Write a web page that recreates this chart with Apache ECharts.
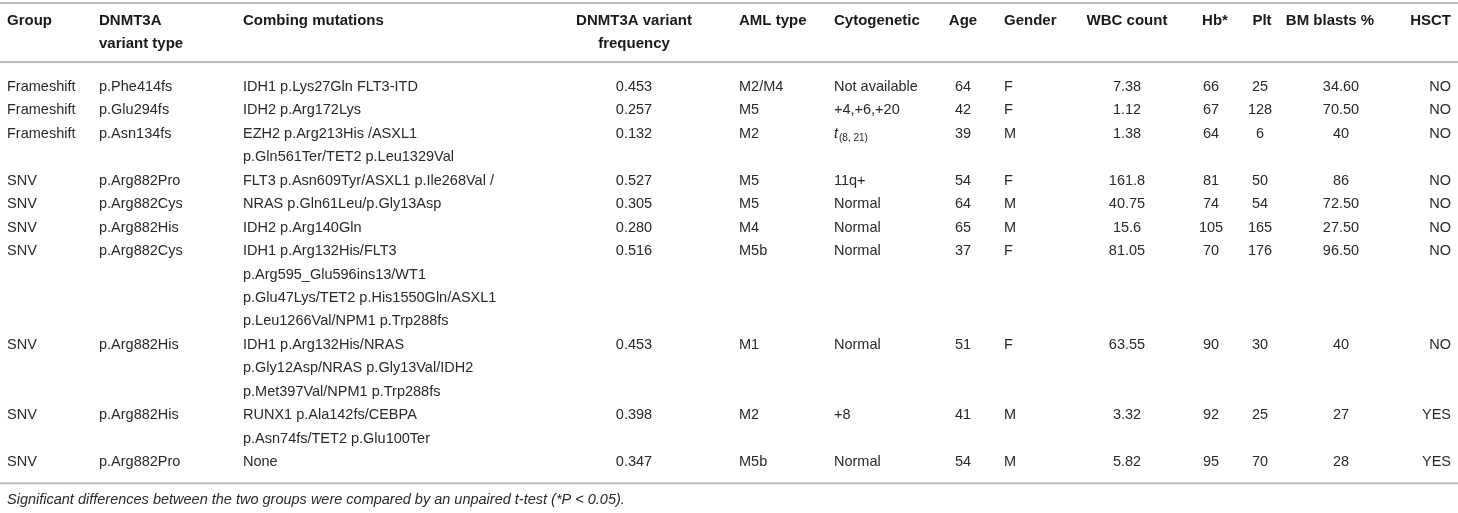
<!DOCTYPE html>
<html>
<head>
<meta charset="utf-8">
<style>
  html, body { margin: 0; padding: 0; background: #fff; }
  #chart { width: 1458px; height: 513px; }
</style>
<script src="https://cdn.jsdelivr.net/npm/echarts@6/dist/echarts.min.js"></script>
</head>
<body>
<div id="chart"></div>
<script>
// --- table content ---
var headers = [
  ['Group'], ['DNMT3A', 'variant type'], ['Combing mutations'], ['DNMT3A variant', 'frequency'],
  ['AML type'], ['Cytogenetic'], ['Age'], ['Gender'], ['WBC count'], ['Hb*'], ['Plt'], ['BM blasts %'], ['HSCT']
];
var groups = ['Frameshift', 'Frameshift', 'Frameshift', 'SNV', 'SNV', 'SNV', 'SNV', 'SNV', 'SNV', 'SNV'];
var variantTypes = ['p.Phe414fs', 'p.Glu294fs', 'p.Asn134fs', 'p.Arg882Pro', 'p.Arg882Cys', 'p.Arg882His',
  'p.Arg882Cys', 'p.Arg882His', 'p.Arg882His', 'p.Arg882Pro'];
var mutations = [
  ['IDH1 p.Lys27Gln FLT3-ITD'],
  ['IDH2 p.Arg172Lys'],
  ['EZH2 p.Arg213His /ASXL1', 'p.Gln561Ter/TET2 p.Leu1329Val'],
  ['FLT3 p.Asn609Tyr/ASXL1 p.Ile268Val /'],
  ['NRAS p.Gln61Leu/p.Gly13Asp'],
  ['IDH2 p.Arg140Gln'],
  ['IDH1 p.Arg132His/FLT3', 'p.Arg595_Glu596ins13/WT1', 'p.Glu47Lys/TET2 p.His1550Gln/ASXL1', 'p.Leu1266Val/NPM1 p.Trp288fs'],
  ['IDH1 p.Arg132His/NRAS', 'p.Gly12Asp/NRAS p.Gly13Val/IDH2', 'p.Met397Val/NPM1 p.Trp288fs'],
  ['RUNX1 p.Ala142fs/CEBPA', 'p.Asn74fs/TET2 p.Glu100Ter'],
  ['None']
];
var frequencies = ['0.453', '0.257', '0.132', '0.527', '0.305', '0.280', '0.516', '0.453', '0.398', '0.347'];
var amlTypes = ['M2/M4', 'M5', 'M2', 'M5', 'M5', 'M4', 'M5b', 'M1', 'M2', 'M5b'];
var cytogenetics = ['Not available', '+4,+6,+20', '{i|t}{s|(8, 21)}', '11q+', 'Normal', 'Normal', 'Normal', 'Normal', '+8', 'Normal'];
var ages = [64, 42, 39, 54, 64, 65, 37, 51, 41, 54];
var genders = ['F', 'F', 'M', 'F', 'M', 'M', 'F', 'F', 'M', 'M'];
var wbcCounts = ['7.38', '1.12', '1.38', '161.8', '40.75', '15.6', '81.05', '63.55', '3.32', '5.82'];
var hbValues = [66, 67, 64, 81, 74, 105, 70, 90, 92, 95];
var pltValues = [25, 128, 6, 50, 54, 165, 176, 30, 25, 70];
var blasts = ['34.60', '70.50', '40', '86', '72.50', '27.50', '96.50', '40', '27', '28'];
var hsct = ['NO', 'NO', 'NO', 'NO', 'NO', 'NO', 'NO', 'NO', 'YES', 'YES'];
var footnote = 'Significant differences between the two groups were compared by an unpaired t-test (*P < 0.05).';

// --- layout (x anchors in px, y in text lines from first body line) ---
var colLayout = [
  { x: 7, align: 'left' }, { x: 99, align: 'left' }, { x: 243, align: 'left' },
  { x: 634, align: 'center' }, { x: 739, align: 'left' }, { x: 834, align: 'left' },
  { x: 963, align: 'center' }, { x: 1004, align: 'left' }, { x: 1127, align: 'center' },
  { x: 1211, hx: 1215, align: 'center' }, { x: 1260, hx: 1262, align: 'center' },
  { x: 1341, hx: 1330, align: 'center' }, { x: 1451, align: 'right' }
];
var headerLines = [-2.82, -1.83];
var ruleLines = [-3.58, -1.07];
var afterBodyRule = 0.9, afterBodyNote = 1.62;

var ink = '#2a2a2a';
var fontFamily = '"Liberation Sans", Arial, sans-serif';

var columns = [groups, variantTypes, mutations, frequencies, amlTypes, cytogenetics, ages, genders,
  wbcCounts, hbValues, pltValues, blasts, hsct];

// build cells
var cells = [];
headers.forEach(function (h, c) {
  var lay = colLayout[c];
  h.forEach(function (t, k) {
    cells.push({ x: lay.hx != null ? lay.hx : lay.x, line: headerLines[k], text: t, align: lay.align, kind: 'head' });
  });
});
var line = 0;
groups.forEach(function (_, r) {
  var span = 1;
  columns.forEach(function (col, c) {
    var v = col[r];
    var parts = Array.isArray(v) ? v : [String(v)];
    span = Math.max(span, parts.length);
    parts.forEach(function (t, k) {
      cells.push({ x: colLayout[c].x, line: line + k, text: t, align: colLayout[c].align, kind: 'body' });
    });
  });
  line += span;
});
var lastLine = line - 1;
ruleLines.push(lastLine + afterBodyRule);
cells.push({ x: 7, line: lastLine + afterBodyNote, text: footnote, align: 'left', kind: 'note' });

var chart = echarts.init(document.getElementById('chart'), null, { renderer: 'canvas' });
chart.setOption({
  animation: false,
  backgroundColor: '#fff',
  grid: { left: 0, right: 0, top: 0, bottom: 0 },
  xAxis: { type: 'value', min: 0, max: 1458, show: false },
  yAxis: { type: 'value', min: -3.71, max: 18.17, inverse: true, show: false },
  series: [
    {
      type: 'custom',
      silent: true,
      data: ruleLines.map(function (y) { return [0, y]; }),
      renderItem: function (params, api) {
        var a = api.coord([0, api.value(1)]);
        var b = api.coord([1458, api.value(1)]);
        return {
          type: 'line',
          shape: { x1: a[0], y1: a[1], x2: b[0], y2: b[1] },
          style: { stroke: '#bdbdbd', lineWidth: 2 }
        };
      }
    },
    {
      type: 'custom',
      silent: true,
      data: cells.map(function (c) { return [c.x, c.line]; }),
      renderItem: function (params, api) {
        var cell = cells[params.dataIndex];
        var p = api.coord([api.value(0), api.value(1)]);
        var head = cell.kind === 'head';
        return {
          type: 'text',
          x: p[0],
          y: p[1],
          style: {
            text: cell.text,
            fill: head ? '#1a1a1a' : ink,
            fontFamily: fontFamily,
            fontSize: head ? 15 : 14.5,
            fontWeight: head ? 'bold' : 'normal',
            fontStyle: cell.kind === 'note' ? 'italic' : 'normal',
            align: cell.align,
            verticalAlign: 'middle',
            rich: {
              i: { fontStyle: 'italic', fontSize: 14.5, fontFamily: fontFamily, fill: ink },
              s: { fontSize: 10, fontFamily: fontFamily, fill: ink, padding: [9, 0, 0, 1] }
            }
          }
        };
      }
    }
  ]
});
window.addEventListener('resize', function () { chart.resize(); });
</script>
</body>
</html>
